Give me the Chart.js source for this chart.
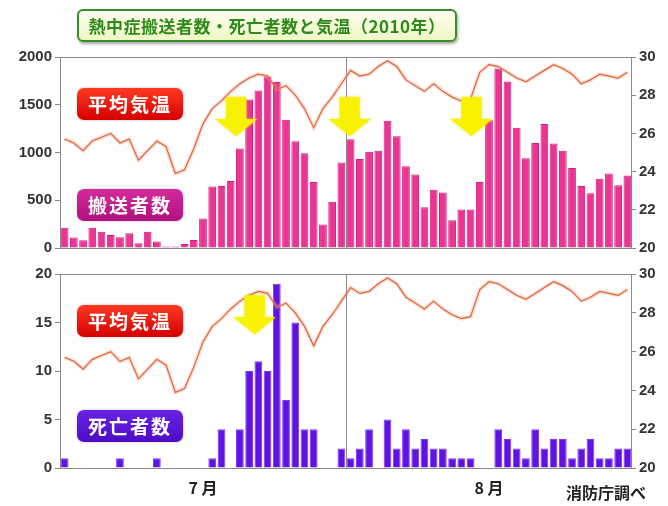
<!DOCTYPE html>
<html>
<head>
<meta charset="utf-8">
<script src="https://cdn.jsdelivr.net/npm/chart.js@4.4.1/dist/chart.umd.min.js"></script>
<style>
  body { margin: 0; background: #fff; }
  #wrap { position: relative; width: 668px; height: 506px; overflow: hidden; background: #fff; }
  canvas { position: absolute; left: 0; }
  #cTop { top: 45px; }
  #cBottom { top: 262px; }
  .title {
    position: absolute; left: 77px; top: 9px; width: 376px; height: 29px;
    border: 2px solid #3d8b2f; border-radius: 6px;
    background: linear-gradient(#fefef0, #eef7c4);
    box-shadow: 1px 2px 3px rgba(0,0,0,0.35);
    color: #2f8a1c; font: bold 17px "Noto Sans CJK JP", sans-serif;
    text-align: center; line-height: 29px; letter-spacing: 0.5px;
  }
  .tag {
    position: absolute; left: 77px; width: 106px; height: 32px; border-radius: 7px;
    color: #fff; font: bold 19px "Noto Sans CJK JP", sans-serif;
    text-align: center; line-height: 32px; letter-spacing: 2px;
    box-shadow: 0 0 3px rgba(0,0,0,0.25);
  }
  .red { background: linear-gradient(#ff3a22, #d40000); }
  .mag { background: linear-gradient(#d42a9c, #b0127e); }
  .pur { background: linear-gradient(#6a22e6, #4c0cc4); }
  .src {
    position: absolute; left: 566px; top: 480px;
    font: bold 16px "Noto Sans CJK JP", sans-serif; color: #222;
  }
</style>
</head>
<body>
<div id="wrap">
  <canvas id="cTop" width="668" height="215"></canvas>
  <canvas id="cBottom" width="668" height="244"></canvas>
  <div class="title">熱中症搬送者数・死亡者数と気温（2010年）</div>
  <div class="tag red" style="top:88px">平均気温</div>
  <div class="tag mag" style="top:189px">搬送者数</div>
  <div class="tag red" style="top:305px">平均気温</div>
  <div class="tag pur" style="top:410px">死亡者数</div>
  <div class="src">消防庁調べ</div>
</div>
<script>
// days: 7/1 .. 8/31
var days = [];
for (var d = 1; d <= 31; d++) days.push('7/' + d);
for (var d = 1; d <= 31; d++) days.push('8/' + d);

var transported = [
  212, 110, 82, 212, 171, 137, 113, 154, 51, 171, 68, 17, 17, 41, 85, 308,
  643, 650, 701, 1043, 1556, 1648, 1795, 1737, 1343, 1118, 991, 691, 246, 485, 896,
  1138, 933, 1009, 1019, 1333, 1169, 855, 769, 427, 609, 581, 291, 403, 403, 691,
  1338, 1880, 1744, 1258, 940, 1100, 1299, 1094, 1019, 838, 650, 574, 725, 779, 656, 759
];
var deaths = [
  1, 0, 0, 0, 0, 0, 1, 0, 0, 0, 1, 0, 0, 0, 0, 0,
  1, 4, 0, 4, 10, 11, 10, 19, 7, 15, 4, 4, 0, 0, 2,
  1, 2, 4, 0, 5, 2, 4, 2, 3, 2, 2, 1, 1, 1, 0,
  0, 4, 3, 2, 1, 4, 2, 3, 3, 1, 2, 3, 1, 1, 2, 2
];
var avgTemp = [
  25.7, 25.5, 25.1, 25.6, 25.8, 26.0, 25.5, 25.7, 24.6, 25.1, 25.6, 25.3, 23.9, 24.1, 25.2, 26.5,
  27.3, 27.7, 28.2, 28.6, 28.9, 29.1, 29.0, 28.3, 28.5, 28.0, 27.3, 26.3, 27.3, 27.9, 28.6,
  29.3, 29.0, 29.1, 29.5, 29.8, 29.5, 28.8, 28.5, 28.2, 28.6, 28.2, 27.9, 27.7, 27.8, 29.2,
  29.6, 29.5, 29.2, 28.9, 28.7, 29.0, 29.3, 29.6, 29.4, 29.1, 28.6, 28.8, 29.1, 29.0, 28.9, 29.2
];
var monthTickIndex = [15, 46];
var monthTickText = ['7 月', '8 月'];
var tempTicks = { min: 20, max: 30, step: 2 };

// yellow arrows: [day index, temperature at arrow top]
var arrowsTop = [[18.6, 27.9], [30.9, 27.9], [44.1, 27.9]];
var arrowsBottom = [[20.6, 28.9]];

var tickFont = { family: '"Liberation Sans", Arial, sans-serif', size: 15, weight: 'bold' };

function framePlugin() {
  return {
    id: 'frame',
    beforeDatasetsDraw: function (chart) {
      var a = chart.chartArea, ctx = chart.ctx, x = chart.scales.x;
      ctx.save();
      ctx.strokeStyle = '#8a8a8a';
      ctx.lineWidth = 1;
      ctx.strokeRect(a.left + 0.5, a.top + 0.5, a.right - a.left - 1, a.bottom - a.top);
      var sep = Math.round((x.getPixelForValue(30) + x.getPixelForValue(31)) / 2) + 0.5;
      ctx.beginPath();
      ctx.moveTo(sep, a.top);
      ctx.lineTo(sep, a.bottom);
      ctx.stroke();
      ctx.restore();
    }
  };
}

function arrowPlugin(list) {
  return {
    id: 'arrows',
    afterDatasetsDraw: function (chart) {
      var ctx = chart.ctx, x = chart.scales.x, yT = chart.scales.yT;
      ctx.save();
      list.forEach(function (ar) {
        var cx = x.getPixelForValue(ar[0]);
        var top = yT.getPixelForValue(ar[1]);
        var sw = 10, hw = 21, sh = 22, hh = 17;
        ctx.beginPath();
        ctx.moveTo(cx - sw, top);
        ctx.lineTo(cx + sw, top);
        ctx.lineTo(cx + sw, top + sh);
        ctx.lineTo(cx + hw, top + sh);
        ctx.lineTo(cx, top + sh + hh);
        ctx.lineTo(cx - hw, top + sh);
        ctx.lineTo(cx - sw, top + sh);
        ctx.closePath();
        ctx.shadowColor = 'rgba(230,220,0,0.8)';
        ctx.shadowBlur = 3;
        ctx.fillStyle = '#f8f200';
        ctx.fill();
      });
      ctx.restore();
    }
  };
}

function makeChart(id, barData, barColor, barBorder, yMax, yStep, showMonths, arrows, padTop) {
  return new Chart(document.getElementById(id), {
    type: 'bar',
    data: {
      labels: days,
      datasets: [
        {
          type: 'line', data: avgTemp, yAxisID: 'yT', order: 0,
          borderColor: '#d8653e', borderWidth: 1.2, pointRadius: 0, tension: 0
        },
        {
          type: 'line', data: avgTemp, yAxisID: 'yT', order: 1,
          borderColor: 'rgba(255,160,130,0.35)', borderWidth: 4, pointRadius: 0, tension: 0
        },
        {
          type: 'bar', data: barData, yAxisID: 'y', order: 2,
          backgroundColor: barColor, borderColor: barBorder, borderWidth: 1,
          barPercentage: 0.84, categoryPercentage: 1
        }
      ]
    },
    options: {
      responsive: false,
      animation: false,
      layout: { padding: { top: padTop, bottom: showMonths ? 0 : 10, left: 0, right: 0 } },
      plugins: { legend: { display: false }, tooltip: { enabled: false } },
      scales: {
        x: {
          display: showMonths,
          grid: { display: false, drawTicks: false },
          border: { display: false },
          ticks: {
            autoSkip: false, maxRotation: 0, padding: 10, color: '#222',
            font: { family: '"Noto Sans CJK JP", sans-serif', size: 16, weight: 'bold' },
            callback: function (v, i) {
              var k = monthTickIndex.indexOf(i);
              return k >= 0 ? monthTickText[k] : '';
            }
          },
          afterFit: function (s) { if (showMonths) s.height = 38; }
        },
        y: {
          position: 'left', min: 0, max: yMax,
          ticks: {
            stepSize: yStep, color: '#333', font: tickFont, padding: 3,
            callback: function (v) { return String(v); }
          },
          grid: { drawOnChartArea: false, tickLength: 5, color: '#8a8a8a' },
          border: { display: false },
          afterFit: function (s) { s.width = 60; }
        },
        yT: {
          position: 'right', min: tempTicks.min, max: tempTicks.max,
          ticks: { stepSize: tempTicks.step, color: '#333', font: tickFont, padding: 3 },
          grid: { drawOnChartArea: false, tickLength: 4, color: '#8a8a8a' },
          border: { display: false },
          afterFit: function (s) { s.width = 36; }
        }
      }
    },
    plugins: [framePlugin(), arrowPlugin(arrows)]
  });
}

makeChart('cTop', transported, '#ea3592', '#cf1f7a', 2000, 500, false, arrowsTop, 10);
makeChart('cBottom', deaths, '#5f12e2', '#7a3af5', 20, 5, true, arrowsBottom, 11);
</script>
</body>
</html>
